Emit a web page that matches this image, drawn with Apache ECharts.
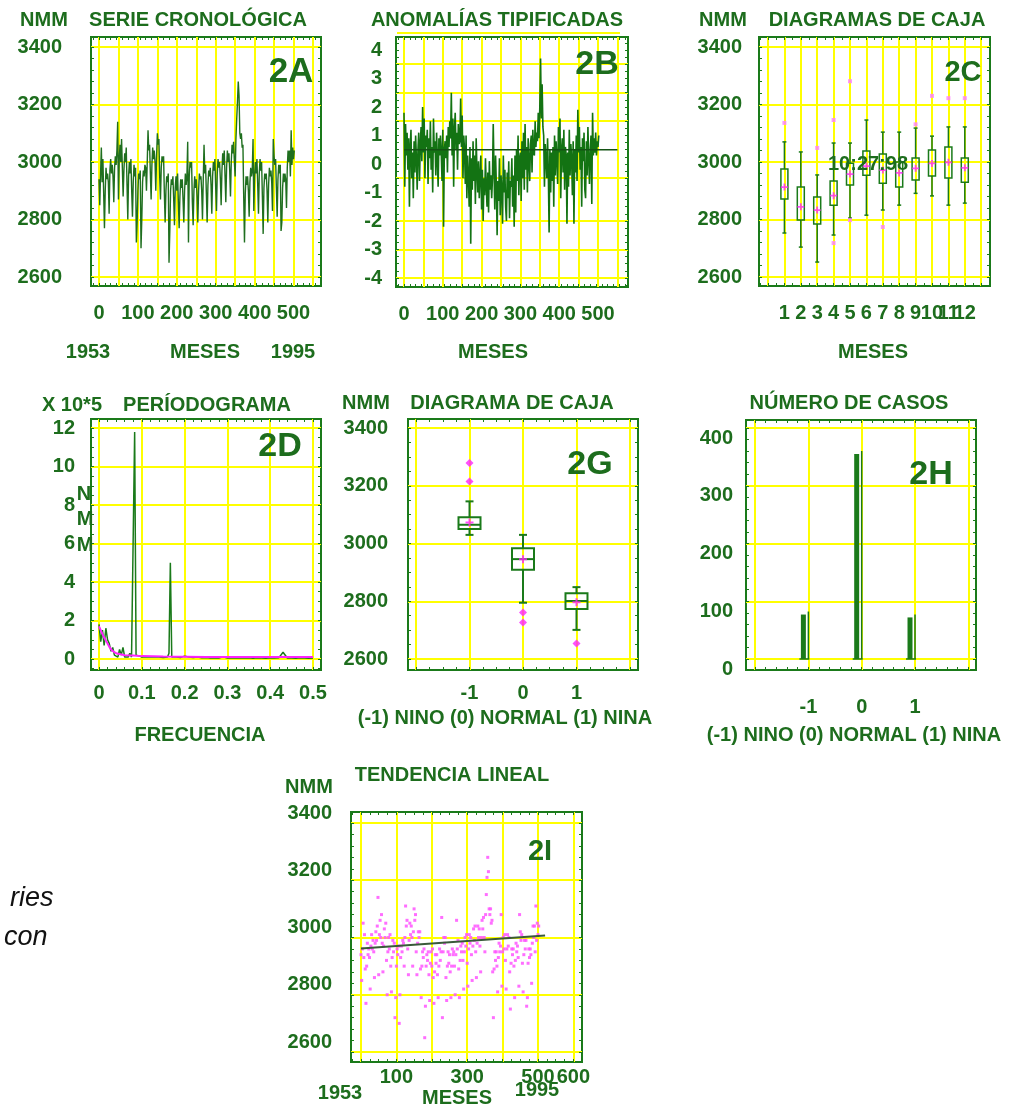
<!DOCTYPE html>
<html><head><meta charset="utf-8">
<script src="https://cdn.jsdelivr.net/npm/echarts@6/dist/echarts.min.js"></script>
<style>html,body{margin:0;padding:0;background:#fff}#c{width:1014px;height:1109px}</style>
</head><body><div id="c"></div>
<script>
// ---------------- DATA ----------------
// 2A / 2I : mean sea level (NMM), bimonthly readings 1953-1994 (month index = i*2)
const monthStep = 2;
const nmmSeries = [
2940,2850,2960,3050,2930,3010, 2890,2770,2900,2980,2940,2960, 2930,2820,2970,3010,2960,2990,
2950,2860,2980,3020,2990,3040, 3140,2870,3010,3060,3000,3080, 2980,2880,2970,3030,3000,3050,
2920,2800,2950,3000,2960,3010, 2900,2810,2930,2990,2950,2980, 2720,2790,2900,2960,2940,2970,
2700,2800,2930,2970,2950,2990, 2980,2900,3000,3110,3040,3060, 2960,2870,2990,3050,3010,3040,
3000,2900,3020,3100,3060,3080, 2950,2870,2980,3020,3000,3020, 2890,2790,2900,2950,2930,2960,
2650,2760,2900,2940,2920,2950, 2870,2780,2910,2950,2900,2960, 2860,2770,2880,2940,2910,2940,
2870,2790,2900,2960,2920,2950, 3070,2720,2950,3000,2980,3000, 2860,2780,2900,2950,2910,2940,
2880,2790,2900,2960,2940,2950, 2900,2800,2940,3060,2960,2990, 2890,2790,2920,2970,2950,2980,
2920,2820,2950,3000,2970,3010, 2910,2830,2960,3010,2980,3000, 2940,2850,2970,3030,2990,3040,
2950,2860,2980,3040,3000,3030, 2970,2880,3000,3060,3030,3070, 3000,2950,3080,3150,3210,3280,
3230,3100,3080,3100,3050,3060, 2880,2720,2890,2950,2920,2950, 2900,2810,2930,2980,2950,2970,
3080,2830,2950,3000,2960,3010, 2920,2820,2960,3010,2970,3000, 2880,2750,2910,2960,2940,2960,
2900,2790,2920,2980,2950,2970, 2930,2830,3080,3020,2990,3010, 2910,2810,2940,2990,2960,2990,
2760,2790,2910,2960,2930,2960, 2940,2840,2980,3040,3000,3040, 2950,3110,2990,3050,3010,3040
];
// 2B : standardized anomalies, bimonthly
const anomalySeries = [
1.8,-0.8,1.4,0.3,1.1,-0.2, 0.9,-1.5,0.6,1.2,-0.5,0.4, -1.2,0.8,-0.3,1.0,0.2,-0.9,
0.5,1.1,-0.6,0.7,1.3,0.1, 2.0,0.4,1.6,-0.5,1.0,0.6, 1.2,-0.7,0.9,0.2,1.5,-0.2,
0.6,-1.0,1.6,0.4,0.8,-0.4, 1.1,0.2,-0.8,0.9,0.3,1.0, 0.4,-0.6,1.2,-2.2,0.5,0.8,
0.2,1.0,-0.3,1.3,0.6,1.5, 0.9,2.5,0.3,1.6,-0.8,1.2, 1.8,0.5,1.1,-0.2,1.4,0.7,
0.8,2.3,0.6,1.7,-0.5,1.0, 0.5,-0.7,1.0,-1.2,0.3,-0.4, -1.5,0.6,-2.8,0.2,-0.9,0.8,
-0.6,0.3,-1.4,0.9,-0.2,-1.0, 0.1,-1.2,-0.4,0.3,-1.6,-0.2, -2.0,-0.5,-1.1,0.2,-0.8,-1.5,
-0.3,-1.7,0.1,-0.9,-0.4,-1.2, -0.5,1.4,-0.2,-1.6,0.3,-0.7, -2.5,-0.6,-1.3,0.2,-1.8,-0.4,
-0.9,-2.1,0.3,-1.0,-0.2,-1.5, -2.0,-0.3,-1.2,0.1,-1.9,-0.6, -0.8,0.2,-1.5,-0.4,-2.2,0.3,
-1.7,0.5,-0.6,1.0,-1.1,0.2, 0.4,-1.3,0.8,-0.5,1.1,-0.9, 1.4,-0.2,0.6,-1.0,0.9,0.1,
-0.6,0.7,1.0,-0.3,1.2,0.4, 0.3,1.5,0.6,1.1,0.8,1.8, 0.9,2.0,3.7,1.6,2.8,1.3,
1.0,-0.8,0.7,0.2,-0.5,0.9, -0.3,-2.4,0.5,-1.0,0.4,-0.6, 0.6,-1.5,1.0,-0.4,0.8,0.2,
-0.7,1.3,0.4,1.6,-1.2,0.5, 0.9,-0.3,1.2,-0.9,0.6,0.3, -2.1,0.4,-0.8,1.2,-0.4,0.7,
0.2,-1.1,0.8,-2.1,0.5,-0.3, 1.0,-0.6,1.9,0.4,1.3,-0.2, 0.6,-1.5,0.9,0.1,1.1,-0.9,
-1.2,0.8,-0.4,1.3,0.2,-0.7, 0.5,1.0,-1.4,1.8,0.3,0.9, 0.4,1.1,0.3,0.8,0.6,1.0
];
const refLineX = [0, 550];
const refLineY = [0.5, 0.5];

// 2C : monthly box plots
const boxMonths = [1,2,3,4,5,6,7,8,9,10,11,12];
const boxLow  = [2753,2704,2652,2746,2805,2815,2833,2850,2891,2882,2850,2857];
const boxQ1   = [2871,2798,2784,2850,2920,2954,2926,2913,2937,2951,2944,2930];
const boxQ3   = [2976,2913,2878,2934,2996,3038,3028,3000,3014,3042,3052,3014];
const boxHigh = [3070,3035,2955,3066,3066,3146,3104,3104,3118,3090,3122,3122];
const boxMean = [2913,2844,2833,2883,2958,2986,2972,2962,2978,2995,2999,2980];
const boxOutMonth = [1,3,4,4,5,5,7,9,10,11,12];
const boxOutValue = [3136,3049,3146,2718,3281,2798,2774,3131,3230,3222,3222];

// 2D : periodogram (x 10^5)
const perFreq = [0,0.004,0.008,0.012,0.016,0.02,0.024,0.028,0.032,0.036,0.04,0.044,0.048,0.052,0.056,0.06,0.064,0.068,0.072,0.076,0.08,
  0.0833,0.0866,0.09,0.095,0.1,0.11,0.12,0.13,0.14,0.15,0.16,0.1635,0.1667,0.17,
  0.18,0.19,0.2,0.21,0.22,0.23,0.24,0.25,0.26,0.27,0.28,0.29,0.3,0.31,0.32,0.33,0.34,0.35,0.36,0.37,0.38,0.39,0.4,0.41,0.42,0.43,0.44,0.45,0.46,0.47,0.48,0.49,0.5];
const perValue = [1.8,0.9,1.5,0.7,1.6,1.0,0.8,0.4,0.6,0.2,0.3,0.1,0.5,0.2,0.6,0.1,0.2,0.1,0.3,0.1,0.2,
  11.8,0.2,0.1,0.15,0.1,0.1,0.12,0.1,0.1,0.08,0.1,0.3,5.0,0.1,
  0.1,0.08,0.15,0.1,0.08,0.1,0.06,0.08,0.05,0.07,0.05,0.12,0.05,0.06,0.05,0.07,0.05,0.06,0.04,0.06,0.05,0.04,0.06,0.05,0.06,0.35,0.05,0.05,0.04,0.06,0.05,0.04,0.05];
const smoothFreq  = [0,0.005,0.01,0.015,0.02,0.025,0.03,0.04,0.05,0.06,0.08,0.1,0.15,0.2,0.25,0.3,0.35,0.4,0.45,0.5];
const smoothValue = [1.7,1.45,1.2,1.0,0.8,0.6,0.45,0.3,0.25,0.2,0.18,0.15,0.13,0.12,0.11,0.1,0.1,0.1,0.1,0.1];

// 2G : box plots by ENSO class
const ensoClass = [-1,0,1];
const ensoLow  = [3030,2795,2701];
const ensoQ1   = [3050,2909,2773];
const ensoMed  = [3065,2946,2801];
const ensoQ3   = [3091,2984,2828];
const ensoHigh = [3146,3030,2849];
const ensoMean = [3073,2946,2797];
const ensoOutClass = [-1,-1,0,0,1];
const ensoOutValue = [3279,3215,2761,2727,2654];

// 2H : number of cases
const ensoCount = [77,355,72];

// 2I : linear trend
const trendX = [0,520];
const trendY = [2962,3007];

// tick / grid values
const monthLabels = [0,100,200,300,400,500];
const monthGrid = [0,50,100,150,200,250,300,350,400,450,500,550];
const nmmTicks = [2600,2800,3000,3200,3400];
const anomLabels = [-4,-3,-2,-1,0,1,2,3,4];
const anomGrid = [-4,-3,-2,-0.5,1.5,2.5,3.5];
const boxGrid = [0,1,2,3,4,5,6,7,8,9,10,11,12,13];
const boxLabelsOdd = [1,3,5,7,9,11];
const boxLabelsEven = [2,4,6,8,10,12];
const freqTicks = [0,0.1,0.2,0.3,0.4,0.5];
const perTicks = [0,2,4,6,8,10,12];
const classTicks = [-1,0,1];
const classGrid = [-2,-1,0,1,2];
const countTicks = [0,100,200,300,400];
const trendLabels = [100,300,500,600];
const trendGrid = [0,100,200,300,400,500,600];

// ---------------- STYLE ----------------
const TXT = '#1d6d1d';
const FRAME = '#1a7a1a';
const YELLOW = '#ffff00';
const PINK = '#ff22ff';
const FONT = '"Liberation Sans", Arial, sans-serif';

function grid(l, t, w, h) {
  return {left:l, top:t, width:w, height:h, show:true, borderColor:FRAME, borderWidth:2,
          backgroundColor:'#fff', containLabel:false, outerBoundsMode:'none'};
}
function labelCfg(labelVals, margin, extra) {
  return Object.assign({show:true, customValues:labelVals, margin:margin, color:TXT,
      fontSize:20, fontWeight:'bold', fontFamily:FONT, hideOverlap:false,
      formatter:function(v){return String(v);}}, extra||{});
}
function axis(gi, min, max, gridVals, labelVals, margin, extra) {
  return {type:'value', gridIndex:gi, min:min, max:max,
    axisLine:{show:false, onZero:false},
    axisTick:{show:false, customValues:gridVals},
    axisLabel:labelCfg(labelVals, margin, extra),
    splitLine:{show:true, lineStyle:{color:YELLOW, width:2}},
    minorTick:{show:false}, minorSplitLine:{show:false}};
}
// label-only companion axis (no grid lines)
function labelAxis(gi, min, max, labelVals, margin, position) {
  return {type:'value', gridIndex:gi, min:min, max:max, position:position,
    axisLine:{show:false, onZero:false}, axisTick:{show:false}, splitLine:{show:false},
    axisLabel:labelCfg(labelVals, margin)};
}
// small inner frame ticks (decoration along the plot border)
function stepsIn(min, max, step) {
  const out = [];
  for (let v = Math.ceil(min / step) * step; v <= max; v += step) out.push(+v.toFixed(6));
  return out;
}
function tickAxis(gi, min, max, step, position) {
  return {type:'value', gridIndex:gi, min:min, max:max, position:position, offset:0,
    axisLine:{show:false, onZero:false}, axisLabel:{show:false}, splitLine:{show:false},
    axisTick:{show:true, inside:true, length:3, customValues:stepsIn(min, max, step),
              lineStyle:{color:FRAME, width:1}}};
}
function T(text, x, y, size, extra) {
  return Object.assign({type:'text', x:x, y:y, z:100, silent:true,
    style:{text:text, font:'bold ' + (size||20) + 'px ' + FONT, fill:TXT,
           align:'center', verticalAlign:'middle', textAlign:'center', textVerticalAlign:'middle'}}, extra||{});
}
const plusPath = 'path://M3,0h2v3h3v2h-3v3h-2v-3h-3v-2h3z';

function boxRender(halfW, capW, lw, withMedian) {
  return function(params, api) {
    const x = api.value(0);
    const lo = api.coord([x, api.value(1)]);
    const q1 = api.coord([x, api.value(2)]);
    const q3 = api.coord([x, api.value(withMedian ? 4 : 3)]);
    const hi = api.coord([x, api.value(withMedian ? 5 : 4)]);
    const cx = lo[0];
    const st = {stroke:FRAME, lineWidth:lw, fill:'none'};
    const ch = [
      {type:'line', shape:{x1:cx, y1:hi[1], x2:cx, y2:q3[1]}, style:st},
      {type:'line', shape:{x1:cx, y1:q1[1], x2:cx, y2:lo[1]}, style:st},
      {type:'line', shape:{x1:cx-capW, y1:hi[1], x2:cx+capW, y2:hi[1]}, style:st},
      {type:'line', shape:{x1:cx-capW, y1:lo[1], x2:cx+capW, y2:lo[1]}, style:st},
      {type:'rect', shape:{x:cx-halfW, y:q3[1], width:2*halfW, height:q1[1]-q3[1]}, style:{stroke:FRAME, lineWidth:lw, fill:'rgba(0,0,0,0)'}}
    ];
    if (withMedian) {
      const md = api.coord([x, api.value(3)]);
      ch.push({type:'line', shape:{x1:cx-halfW, y1:md[1], x2:cx+halfW, y2:md[1]}, style:st});
    }
    return {type:'group', children:ch};
  };
}
function barRender(params, api) {
  const x = api.value(0), v = api.value(1);
  const b = api.coord([x, 0]), t = api.coord([x, v]);
  return {type:'group', children:[
    {type:'rect', shape:{x:b[0]-7.5, y:t[1], width:5, height:b[1]-t[1]}, style:{fill:FRAME}},
    {type:'line', shape:{x1:b[0], y1:b[1], x2:b[0], y2:t[1]-3}, style:{stroke:FRAME, lineWidth:1.5}},
    {type:'line', shape:{x1:b[0]-9, y1:b[1], x2:b[0]+1, y2:b[1]}, style:{stroke:FRAME, lineWidth:1.5}}
  ]};
}
const zip = (a, b) => a.map((v, i) => [v, b[i]]);

// panel ranges [xmin, xmax, ymin, ymax] and decorative tick steps
const R = [
  [-20.6, 570.7, 2568.7, 3434.8, 15, 40],
  [-20.6, 577.3, -4.316, 4.456, 15, 0.25],
  [-0.549, 13.537, 2568.7, 3434.8, 0.5, 40],
  [-0.0187, 0.5187, -0.571, 12.47, 0.02, 0.5],
  [-2.15, 2.15, 2562.1, 3431.2, 0.25, 50],
  [-2.17, 2.144, -19.05, 413.9, 0.2, 20],
  [-28.2, 624.3, 2565.1, 3438.4, 25, 40]
];

const xAxes = [
  axis(0, R[0][0], R[0][1], monthGrid, monthLabels, 17),
  axis(1, R[1][0], R[1][1], monthGrid, monthLabels, 17),
  axis(2, R[2][0], R[2][1], boxGrid, boxLabelsOdd, 17),
  axis(3, R[3][0], R[3][1], freqTicks, freqTicks, 13),
  axis(4, R[4][0], R[4][1], classGrid, classTicks, 13),
  axis(5, R[5][0], R[5][1], classGrid, classTicks, 27),
  axis(6, R[6][0], R[6][1], trendGrid, trendLabels, 5)
];
const yAxes = [
  axis(0, R[0][2], R[0][3], nmmTicks, nmmTicks, 29),
  axis(1, R[1][2], R[1][3], anomGrid, anomLabels, 14),
  axis(2, R[2][2], R[2][3], nmmTicks, nmmTicks, 17),
  axis(3, R[3][2], R[3][3], perTicks, perTicks, 16),
  axis(4, R[4][2], R[4][3], nmmTicks, nmmTicks, 20),
  axis(5, R[5][2], R[5][3], countTicks, countTicks, 13, {verticalAlign:'top'}),
  axis(6, R[6][2], R[6][3], nmmTicks, nmmTicks, 19, {verticalAlign:'bottom'})
];
R.forEach(function(r, gi) {
  xAxes.push(tickAxis(gi, r[0], r[1], r[4], 'bottom'));
  xAxes.push(tickAxis(gi, r[0], r[1], r[4], 'top'));
  yAxes.push(tickAxis(gi, r[2], r[3], r[5], 'left'));
  yAxes.push(tickAxis(gi, r[2], r[3], r[5], 'right'));
});
xAxes.push(labelAxis(2, R[2][0], R[2][1], boxLabelsEven, 17, 'bottom'));

const option = {
  animation:false,
  backgroundColor:'#fff',
  grid:[
    grid(91, 37, 230, 249),   // 2A
    grid(396, 37, 232, 250),  // 2B
    grid(759, 37, 231, 249),  // 2C
    grid(91, 419, 230, 251),  // 2D
    grid(408, 419, 230, 251), // 2G
    grid(746, 420, 230, 250), // 2H
    grid(351, 812, 231, 250)  // 2I
  ],
  xAxis:xAxes,
  yAxis:yAxes,
  series:[
    {type:'line', xAxisIndex:0, yAxisIndex:0, showSymbol:false, symbol:'none',
     data:nmmSeries.map((v,i)=>[i*monthStep, v]), lineStyle:{color:'#1f6f1f', width:1.4}},
    {type:'line', xAxisIndex:1, yAxisIndex:1, showSymbol:false, symbol:'none',
     data:anomalySeries.map((v,i)=>[i*monthStep, v]), lineStyle:{color:'#137313', width:1.6}},
    {type:'line', xAxisIndex:1, yAxisIndex:1, showSymbol:false, symbol:'none',
     data:zip(refLineX, refLineY), lineStyle:{color:'#145214', width:1.5}},
    {type:'custom', xAxisIndex:2, yAxisIndex:2, renderItem:boxRender(3.5, 2, 1.5, false),
     data:boxMonths.map((m,i)=>[m, boxLow[i], boxQ1[i], boxQ3[i], boxHigh[i]])},
    {type:'scatter', xAxisIndex:2, yAxisIndex:2, symbol:plusPath, symbolSize:7,
     itemStyle:{color:PINK}, data:zip(boxMonths, boxMean), z:5},
    {type:'scatter', xAxisIndex:2, yAxisIndex:2, symbol:'rect', symbolSize:4,
     itemStyle:{color:'#ff80ff'}, data:zip(boxOutMonth, boxOutValue), z:5},
    {type:'line', xAxisIndex:3, yAxisIndex:3, showSymbol:false, symbol:'none',
     data:zip(perFreq, perValue), lineStyle:{color:FRAME, width:1.5}},
    {type:'line', xAxisIndex:3, yAxisIndex:3, showSymbol:false, symbol:'none',
     data:zip(smoothFreq, smoothValue), lineStyle:{color:PINK, width:2}},
    {type:'custom', xAxisIndex:4, yAxisIndex:4, renderItem:boxRender(11, 4, 2, true),
     data:ensoClass.map((c,i)=>[c, ensoLow[i], ensoQ1[i], ensoMed[i], ensoQ3[i], ensoHigh[i]])},
    {type:'scatter', xAxisIndex:4, yAxisIndex:4, symbol:plusPath, symbolSize:8,
     itemStyle:{color:PINK}, data:zip(ensoClass, ensoMean), z:5},
    {type:'scatter', xAxisIndex:4, yAxisIndex:4, symbol:'diamond', symbolSize:8,
     itemStyle:{color:PINK}, data:zip(ensoOutClass, ensoOutValue), z:5},
    {type:'custom', xAxisIndex:5, yAxisIndex:5, renderItem:barRender,
     data:zip(ensoClass, ensoCount)},
    {type:'scatter', xAxisIndex:6, yAxisIndex:6, symbol:'rect', symbolSize:3,
     itemStyle:{color:'#ff55ff', opacity:0.85}, data:nmmSeries.map((v,i)=>[i*monthStep, v])},
    {type:'line', xAxisIndex:6, yAxisIndex:6, showSymbol:false, symbol:'none',
     data:zip(trendX, trendY), lineStyle:{color:'#3a5a3a', width:2}, z:6}
  ],
  graphic:[
    T('NMM', 44, 20), T('SERIE CRONOLÓGICA', 198, 20), T('2A', 291, 72, 35),
    T('1953', 88, 352), T('MESES', 205, 352), T('1995', 293, 352),
    T('ANOMALÍAS TIPIFICADAS', 497, 20),
    {type:'line', z:99, silent:true, shape:{x1:397, y1:33, x2:620, y2:33}, style:{stroke:YELLOW, lineWidth:2}},
    T('2B', 597, 65, 34), T('MESES', 493, 352),
    T('NMM', 723, 20), T('DIAGRAMAS DE CAJA', 877, 20), T('2C', 963, 73, 29),
    T('10:27:98', 868, 164), T('MESES', 873, 352),
    T('X 10*5', 72, 405), T('PERÍODOGRAMA', 207, 405), T('2D', 280, 447, 34),
    T('N', 84, 494), T('M', 85, 519), T('M', 85, 545), T('FRECUENCIA', 200, 735),
    T('NMM', 366, 403), T('DIAGRAMA DE CAJA', 512, 403), T('2G', 590, 465, 34),
    T('(-1) NINO (0) NORMAL (1) NINA', 505, 718),
    T('NÚMERO DE CASOS', 849, 403), T('2H', 931, 475, 34),
    T('(-1) NINO (0) NORMAL (1) NINA', 854, 735),
    T('TENDENCIA LINEAL', 452, 775), T('NMM', 309, 787), T('2I', 540, 852, 29),
    T('1953', 340, 1093), T('MESES', 457, 1098), T('1995', 537, 1090),
    {type:'text', x:10, y:898, z:100, silent:true, style:{text:'ries', font:'italic 27px "Liberation Sans", sans-serif', fill:'#111', align:'left', verticalAlign:'middle', textAlign:'left', textVerticalAlign:'middle'}},
    {type:'text', x:4, y:937, z:100, silent:true, style:{text:'con', font:'italic 27px "Liberation Sans", sans-serif', fill:'#111', align:'left', verticalAlign:'middle', textAlign:'left', textVerticalAlign:'middle'}}
  ]
};
const chart = echarts.init(document.getElementById('c'), null, {renderer:'canvas'});
chart.setOption(option);
</script>
</body></html>
